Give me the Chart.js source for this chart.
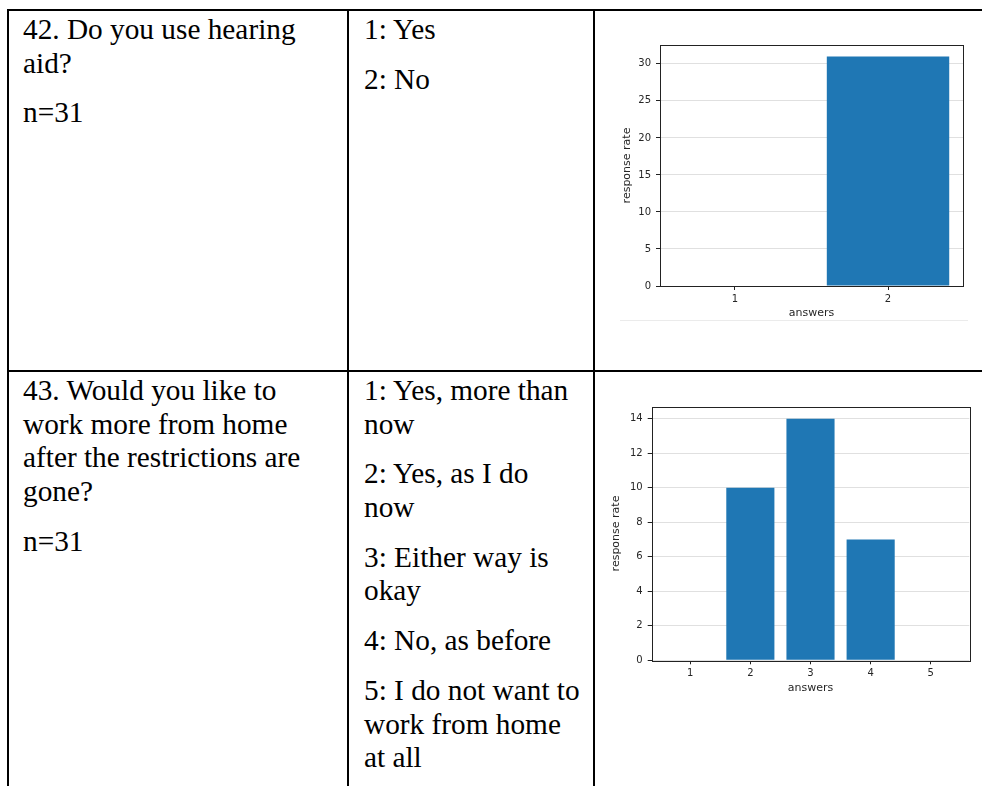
<!DOCTYPE html>
<html>
<head>
<meta charset="utf-8">
<script src="https://cdn.jsdelivr.net/npm/chart.js@4.4.1/dist/chart.umd.min.js"></script>
<style>
    body {
        margin: 0;
        width: 982px;
        height: 786px;
        overflow: hidden;
        background: #ffffff;
        position: relative;
        font-family: "Liberation Serif", "Times New Roman", serif;
    }
    .line { position: absolute; background: #000000; }
    .cell {
        position: absolute;
        font-size: 29.3px;
        line-height: 33.6px;
        color: #000000;
        white-space: nowrap;
    }
    .cell p { margin: 0 0 16.2px 0; }
    canvas { position: absolute; }
</style>
</head>
<body>

<!-- bordes de la tabla -->
<div class="line" style="left:7px; top:9px; width:975px; height:2px;"></div>
<div class="line" style="left:7px; top:370px; width:975px; height:2px;"></div>
<div class="line" style="left:7px; top:9px; width:2px; height:777px;"></div>
<div class="line" style="left:347px; top:9px; width:2px; height:777px;"></div>
<div class="line" style="left:593px; top:9px; width:2px; height:777px;"></div>

<!-- fila 42 -->
<div class="cell" style="left:23px; top:13px;">
    <p>42. Do you use hearing<br>aid?</p>
    <p>n=31</p>
</div>
<div class="cell" style="left:364px; top:13px;">
    <p>1: Yes</p>
    <p>2: No</p>
</div>
<canvas id="grafica42" width="375" height="300" style="left:600px; top:30px;"></canvas>
<div style="position:absolute; left:620px; top:320px; width:348px; height:1px; background:#ebebeb;"></div>

<!-- fila 43 -->
<div class="cell" style="left:23px; top:374px;">
    <p>43. Would you like to<br>work more from home<br>after the restrictions are<br>gone?</p>
    <p>n=31</p>
</div>
<div class="cell" style="left:364px; top:374px;">
    <p>1: Yes, more than<br>now</p>
    <p>2: Yes, as I do<br>now</p>
    <p>3: Either way is<br>okay</p>
    <p>4: No, as before</p>
    <p>5: I do not want to<br>work from home<br>at all</p>
</div>
<canvas id="grafica43" width="380" height="310" style="left:600px; top:395px;"></canvas>

<script>
// Datos
const answers42 = [1, 2];
const responses42 = [0, 31];
const yTicks42 = [0, 5, 10, 15, 20, 25, 30];

const answers43 = [1, 2, 3, 4, 5];
const responses43 = [0, 10, 14, 7, 0];
const yTicks43 = [0, 2, 4, 6, 8, 10, 12, 14];

const tickFont = { family: "DejaVu Sans", size: 10 };
const titleFont = { family: "DejaVu Sans", size: 11 };
const textColor = "#262626";
const spineColor = "#222222";

// Marco completo alrededor del área de la gráfica (como matplotlib)
const framePlugin = {
    id: "frame",
    afterDatasetsDraw(chart) {
        const { ctx, chartArea: a } = chart;
        ctx.save();
        ctx.strokeStyle = spineColor;
        ctx.lineWidth = 1;
        ctx.strokeRect(Math.round(a.left) + 0.5, Math.round(a.top) + 0.5,
            Math.round(a.right - a.left), Math.round(a.bottom - a.top));
        ctx.restore();
    },
};

function generarGrafica(id, answers, responses, yTicks, limits, layout) {
    const ctx = document.getElementById(id).getContext("2d");

    return new Chart(ctx, {
        type: "bar",
        data: {
            datasets: [
                {
                    data: answers.map((a, i) => ({ x: a, y: responses[i] })),
                    backgroundColor: "#1f77b4",
                    borderWidth: 0,
                    categoryPercentage: 1.0,
                    barPercentage: 0.8,
                },
            ],
        },
        options: {
            responsive: false,
            animation: false,
            layout: { padding: layout.padding },
            plugins: {
                legend: { display: false },
                tooltip: { enabled: false },
            },
            scales: {
                x: {
                    type: "linear",
                    offset: false,
                    min: limits.xMin,
                    max: limits.xMax,
                    afterBuildTicks: (scale) => { scale.ticks = answers.map((v) => ({ value: v })); },
                    afterFit: (scale) => { scale.height = layout.xHeight; },
                    border: { display: false },
                    grid: { offset: false, drawOnChartArea: false, tickColor: spineColor, tickLength: 4 },
                    ticks: { font: tickFont, color: textColor, padding: 3, maxRotation: 0 },
                    title: { display: true, text: "answers", font: titleFont, color: textColor, padding: 0 },
                },
                y: {
                    min: 0,
                    max: limits.yMax,
                    afterBuildTicks: (scale) => { scale.ticks = yTicks.map((v) => ({ value: v })); },
                    afterFit: (scale) => { scale.width = layout.yWidth; },
                    border: { display: false },
                    grid: { color: "#e0e0e0", tickColor: spineColor, tickLength: 4 },
                    ticks: { font: tickFont, color: textColor, padding: 5 },
                    title: { display: true, text: "response rate", font: titleFont, color: textColor, padding: 0 },
                },
            },
        },
        plugins: [framePlugin],
    });
}

generarGrafica("grafica42", answers42, responses42, yTicks42,
    { xMin: 0.51, xMax: 2.49, yMax: 32.55 },
    { padding: { left: 20.1, right: 12, top: 15, bottom: 9.9 }, yWidth: 39.9, xHeight: 34.1 });

generarGrafica("grafica43", answers43, responses43, yTicks43,
    { xMin: 0.36, xMax: 5.64, yMax: 14.7 },
    { padding: { left: 9.4, right: 10.7, top: 11.7, bottom: 9.9 }, yWidth: 42.3, xHeight: 34.8 });
</script>
</body>
</html>
